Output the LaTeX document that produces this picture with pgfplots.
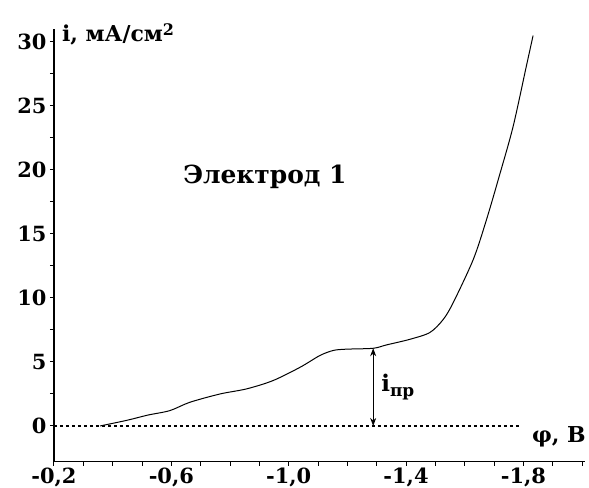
\documentclass[border=0pt]{standalone}
\usepackage{fontspec}
\setmainfont{DejaVu Serif}
\usepackage{pgfplots}
\pgfplotsset{compat=1.18}
\usetikzlibrary{arrows.meta}
\begin{document}
\begin{tikzpicture}
\path[use as bounding box] (-54bp,-26.2bp) rectangle (535bp,461.8bp);
\begin{axis}[
  scale only axis, width=531bp, height=432.6bp,
  at={(0,0)}, anchor=south west,
  xmin=-2.01, xmax=-0.2, ymin=-2.8, ymax=31,
  x dir=reverse,
  axis x line*=bottom, axis y line*=left,
  axis line style={-, line width=1.2pt},
  xtick={-0.2,-0.6,-1.0,-1.4,-1.8},
  xticklabels={{-0,2},{-0,6},{-1,0},{-1,4},{-1,8}},
  minor xtick={-0.3,-0.4,-0.5,-0.7,-0.8,-0.9,-1.1,-1.2,-1.3,-1.5,-1.6,-1.7,-1.9,-2.0},
  ytick={0,5,10,15,20,25,30},
  minor ytick={2.5,7.5,12.5,17.5,22.5,27.5},
  tick align=outside, major tick length=4bp, minor tick length=4bp,
  tick style={black, line width=1pt},
  ticklabel style={font=\bfseries\fontsize{21}{21}\selectfont},
  xticklabel style={inner sep=0pt},
  xticklabel shift=1.5bp,
  /pgf/number format/assume math mode=true,
  clip=false,
]
\addplot[black, dash pattern=on 3bp off 3bp, line width=1.2pt] coordinates {(-0.2,0) (-1.79,0)};
\addplot[black, line width=1pt, smooth, tension=0.5] coordinates {
(-0.357,0.0) (-0.45,0.45) (-0.52,0.85) (-0.595,1.2) (-0.663,1.85) (-0.766,2.5)
(-0.857,2.9) (-0.947,3.55) (-1.04,4.6) (-1.106,5.5) (-1.152,5.9) (-1.197,6.0)
(-1.288,6.07) (-1.333,6.33) (-1.413,6.77) (-1.481,7.3) (-1.526,8.3) (-1.56,9.6)
(-1.629,13.0) (-1.674,16.1) (-1.72,19.7) (-1.765,23.4) (-1.81,28.1) (-1.833,30.5)};
\draw[black, line width=0.9pt, {Stealth[length=8bp,width=6bp]}-{Stealth[length=8bp,width=6bp]}] (axis cs:-1.288,0) -- (axis cs:-1.288,6.07);
\node[anchor=base west, inner sep=0pt, font=\bfseries\fontsize{23}{23}\selectfont] at (axis cs:-1.315,2.66) {i\raisebox{-0.35ex}{\fontsize{17}{17}\selectfont пр}};
\node[anchor=base west, inner sep=0pt, font=\bfseries\fontsize{22}{22}\selectfont] at (axis cs:-1.829,-1.33) {φ, В};
\node[anchor=base west, inner sep=0pt, font=\bfseries\fontsize{22}{22}\selectfont] at (axis cs:-0.227,30.0) {i, мА/см\raisebox{0.55ex}{\fontsize{16}{16}\selectfont 2}};
\node[anchor=base west, inner sep=0pt, font=\bfseries\fontsize{25}{25}\selectfont] at (axis cs:-0.64,18.98) {Электрод 1};
\end{axis}
\end{tikzpicture}
\end{document}
